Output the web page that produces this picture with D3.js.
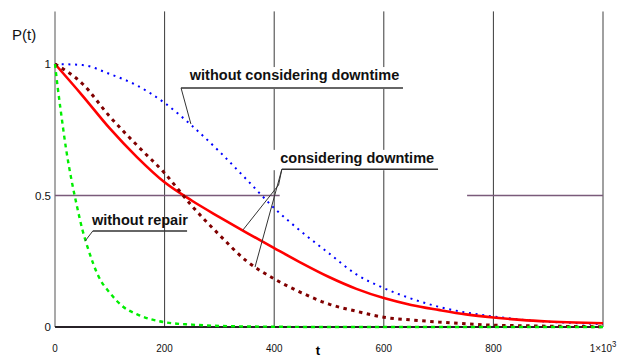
<!DOCTYPE html>
<html>
<head>
<meta charset="utf-8">
<script src="https://cdn.jsdelivr.net/npm/d3@7"></script>
<style>
  html, body { margin: 0; padding: 0; background: #fff; }
  svg { display: block; }
  text { font-family: "Liberation Sans", Arial, sans-serif; }
</style>
</head>
<body>
<svg id="chart" width="618" height="360"></svg>
<script>
// ---- data ----
const tGrid = [0, 50, 100, 150, 200, 250, 300, 350, 400, 450, 500, 550, 600, 650, 700, 750, 800, 850, 900, 950, 1000];
const pWithoutDowntime = [1, 0.996, 0.962, 0.918, 0.852, 0.765, 0.667, 0.56, 0.452, 0.362, 0.28, 0.20, 0.148, 0.108, 0.077, 0.055, 0.04, 0.028, 0.02, 0.015, 0.011];
const pConsideringSolid = [1, 0.88, 0.755, 0.645, 0.55, 0.48, 0.418, 0.358, 0.30, 0.243, 0.19, 0.145, 0.11, 0.084, 0.065, 0.048, 0.036, 0.027, 0.021, 0.017, 0.014];
const pConsideringDashed = [1, 0.925, 0.80, 0.69, 0.585, 0.46, 0.35, 0.25, 0.183, 0.13, 0.087, 0.06, 0.037, 0.027, 0.019, 0.012, 0.007, 0.005, 0.003, 0.002, 0.001];
const tRepair = [0, 5, 10, 20, 30, 40, 50, 60, 80, 100, 125, 150, 200, 250, 300, 400, 500, 600, 700, 800, 900, 1000];
const pWithoutRepair = [1, 0.91, 0.83, 0.68, 0.56, 0.46, 0.37, 0.30, 0.19, 0.13, 0.076, 0.048, 0.018, 0.009, 0.004, 0.001, 0, 0, 0, 0, 0, 0];
const xTicks = [0, 200, 400, 600, 800, 1000];
const xTickLabels = ["0", "200", "400", "600", "800", "1\u00d710"];
const yTicks = [0, 0.5, 1];
const yTickLabels = ["0", "0.5", "1"];
const labelTexts = ["without considering downtime", "considering downtime", "without repair"];

// ---- layout ----
const svg = d3.select("#chart");
const x = d3.scaleLinear().domain([0, 1000]).range([55, 603]);
const y = d3.scaleLinear().domain([0, 1.2]).range([327, 11.4]);

// vertical grid lines
svg.append("g").selectAll("line").data(xTicks.slice(1)).join("line")
  .attr("x1", d => x(d)).attr("x2", d => x(d))
  .attr("y1", y(1.2)).attr("y2", y(0))
  .attr("stroke", d => d === 1000 ? "#808080" : "#3a3a3a")
  .attr("stroke-width", d => d === 1000 ? 1.5 : 1);
// left axis line
svg.append("line").attr("x1", x(0)).attr("x2", x(0)).attr("y1", y(1.2)).attr("y2", y(0))
  .attr("stroke", "#707070").attr("stroke-width", 1.2);

// horizontal grid lines (purple)
const hSegs = [[0, 1, 1000], [0.5, 0, 410], [0.5, 752, 1000]];
svg.append("g").selectAll("line").data(hSegs).join("line")
  .attr("x1", d => x(d[1])).attr("x2", d => x(d[2]))
  .attr("y1", d => y(d[0])).attr("y2", d => y(d[0]))
  .attr("stroke", "#7a5a7a").attr("stroke-width", 1.6);

// bottom axis
svg.append("line").attr("x1", x(0)).attr("x2", x(1000)).attr("y1", y(0)).attr("y2", y(0))
  .attr("stroke", "#000").attr("stroke-width", 1.5);

// tick labels
const xt = svg.append("g").attr("font-size", 11.5).attr("fill", "#111");
xTicks.forEach((t, i) => {
  const tx = xt.append("text").attr("x", x(t)).attr("y", 352).attr("text-anchor", "middle")
    .attr("transform", `translate(${x(t)},0) scale(0.86,1) translate(${-x(t)},0)`);
  tx.append("tspan").text(xTickLabels[i]);
  if (t === 1000) tx.append("tspan").attr("dy", -5).attr("font-size", 9).text("3");
});
svg.append("g").attr("font-size", 11.5).attr("fill", "#111").selectAll("text").data(yTicks).join("text")
  .attr("x", 51).attr("y", d => y(d) + 4).attr("text-anchor", "end")
  .text((d, i) => yTickLabels[i]);

// axis titles
svg.append("text").attr("x", 12).attr("y", 40).attr("font-size", 15).attr("fill", "#111").text("P(t)");
svg.append("text").attr("x", 318).attr("y", 355).attr("font-size", 13).attr("font-weight", "bold").attr("text-anchor", "middle").text("t");

// curves
const line = d3.line().x(d => x(d[0])).y(d => y(d[1])).curve(d3.curveMonotoneX);
const series = [
  { t: tGrid, p: pWithoutDowntime, color: "#0000ff", width: 2, dash: "2,4.7" },
  { t: tGrid, p: pConsideringSolid, color: "#ff0000", width: 2.6, dash: null },
  { t: tGrid, p: pConsideringDashed, color: "#800000", width: 3, dash: "3.5,4.5" },
  { t: tRepair, p: pWithoutRepair, color: "#00ee00", width: 2.4, dash: "4,4" }
];
series.forEach(s => {
  svg.append("path").datum(s.t.map((t, i) => [t, s.p[i]]))
    .attr("d", line).attr("fill", "none")
    .attr("stroke", s.color).attr("stroke-width", s.width)
    .attr("stroke-dasharray", s.dash);
});

// annotations (anchors in data coordinates)
const annotations = [
  { text: labelTexts[0], tx: 246, py: 0.939, ul: [230, 635, 0.909], lead: [[230, 0.909], [248, 0.772]], box: true },
  { text: labelTexts[1], tx: 411, py: 0.624, ul: [414, 699, 0.600], lead: [[414, 0.600], [408, 0.540], [343, 0.369]], lead2: [[414, 0.600], [365, 0.228]], box: true },
  { text: labelTexts[2], tx: 67.5, py: 0.388, ul: [69, 241, 0.365], lead: [[69, 0.365], [55, 0.327]], box: false }
];
const ll = d3.line().x(d => x(d[0])).y(d => y(d[1]));
annotations.forEach(a => {
  const g = svg.append("g");
  const txt = g.append("text").attr("x", x(a.tx)).attr("y", y(a.py))
    .attr("font-size", 14.5).attr("font-weight", "bold").attr("fill", "#111").text(a.text);
  if (a.box) {
    const bb = txt.node().getBBox();
    g.insert("rect", "text").attr("x", bb.x - 8).attr("y", bb.y)
      .attr("width", bb.width + 14).attr("height", y(a.ul[2]) - bb.y + 1).attr("fill", "#fff");
  }
  g.append("line").attr("x1", x(a.ul[0])).attr("x2", x(a.ul[1]))
    .attr("y1", y(a.ul[2])).attr("y2", y(a.ul[2]))
    .attr("stroke", "#333").attr("stroke-width", 1.5);
  [a.lead, a.lead2].filter(Boolean).forEach(L => {
    g.append("path").attr("d", ll(L)).attr("fill", "none").attr("stroke", "#333").attr("stroke-width", 1);
  });
});
</script>
</body>
</html>
